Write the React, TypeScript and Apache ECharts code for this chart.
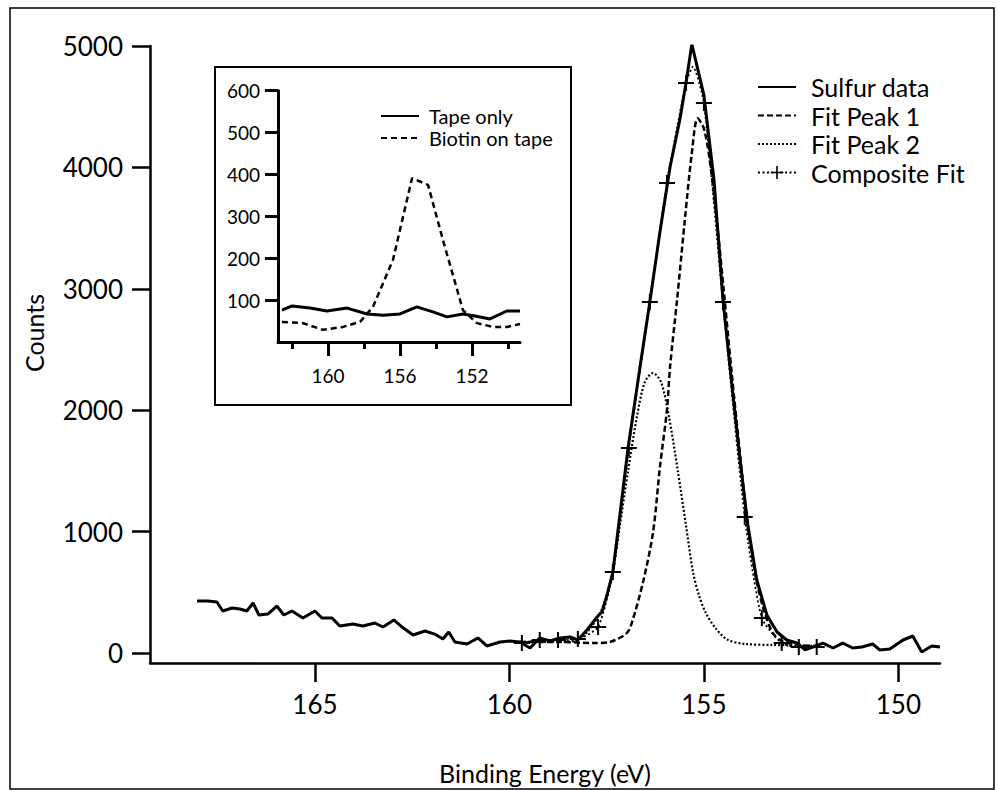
import React, { useEffect, useRef } from "react";
import * as echarts from "echarts";

// ---- Main chart data (Binding energy eV, counts) ----
const sulfurEnergy = [
  168.03, 167.75, 167.52, 167.37, 167.13, 166.93, 166.75, 166.59, 166.44, 166.21,
  165.98, 165.8, 165.59, 165.31, 165.0, 164.82, 164.56, 164.36, 164.02, 163.77,
  163.46, 163.25, 162.97, 162.76, 162.48, 162.17, 161.92, 161.71, 161.56, 161.4,
  161.09, 160.81, 160.58, 160.24, 159.99, 159.73, 159.47, 159.22, 158.96, 158.7,
  158.44, 158.24, 157.98, 157.75, 157.62, 157.49, 157.34, 157.16, 156.95, 156.65,
  156.39, 156.13, 155.87, 155.62, 155.46, 155.31, 155.0, 154.74, 154.51, 154.28,
  154.07, 153.87, 153.64, 153.38, 153.12, 152.87, 152.61, 152.4, 152.2, 151.94,
  151.68, 151.43, 151.17, 150.94, 150.66, 150.48, 150.22, 149.88, 149.63, 149.4,
  149.14, 148.93,
];
const sulfurCounts = [
  428, 428, 420, 346, 371, 362, 346, 412, 313, 321,
  387, 313, 346, 288, 346, 288, 288, 222, 239, 222,
  247, 214, 272, 214, 148, 181, 156, 115, 173, 91,
  74, 124, 58, 91, 99, 91, 41, 124, 99, 124,
  132, 107, 200, 296, 338, 478, 667, 1137, 1689, 2339,
  2891, 3468, 4003, 4390, 4695, 5016, 4596, 3896, 2908, 2207,
  1590, 1054, 601, 313, 173, 107, 82, 25, 49, 82,
  41, 82, 41, 49, 74, 25, 33, 107, 140, 8,
  58, 49,
];

const fit1Energy = [
  159.73, 158.7, 157.85, 157.42, 156.98, 156.83, 156.57, 156.31, 156.13, 155.95,
  155.87, 155.69, 155.49, 155.31, 155.16, 155.0, 154.85, 154.67, 154.49, 154.28,
  154.07, 153.87, 153.66, 153.46, 153.23, 153.0, 152.53, 152.07,
];
const fit1Counts = [
  91, 91, 82, 91, 165, 272, 577, 988, 1532, 2002,
  2356, 2908, 3567, 4119, 4404, 4320, 4061, 3567, 2990, 2290,
  1631, 1038, 618, 354, 165, 99, 66, 58,
];

const fit2Energy = [
  159.73, 158.7, 158.24, 157.93, 157.67, 157.49, 157.34, 157.16, 156.95, 156.72,
  156.52, 156.31, 156.1, 155.9, 155.67, 155.46, 155.28, 155.13, 154.95, 154.69,
  154.38, 153.95, 153.23, 152.07,
];
const fit2Counts = [
  91, 91, 107, 200, 330, 478, 667, 1050, 1500, 1950,
  2230, 2306, 2230, 1950, 1500, 1050, 667, 478, 330, 200,
  107, 75, 66, 58,
];

const compEnergy = [
  159.68, 159.22, 158.75, 158.24, 157.72, 157.34, 156.93, 156.39, 155.95, 155.46,
  155.28, 155.0, 154.51, 153.95, 153.51, 153.0, 152.56, 152.1,
];
const compCounts = [
  82, 107, 107, 115, 214, 667, 1689, 2891, 3871, 4695,
  4830, 4530, 2891, 1120, 288, 82, 49, 49,
];
const compMarker = [
  true, true, true, true, true, true, true, true, true, true,
  false, true, true, true, true, true, true, true,
];

// ---- Inset data ----
const tapeEnergy = [
  162.56, 162.0, 161.0, 160.06, 158.94, 157.83, 156.94, 156.0, 155.06, 154.17,
  153.39, 152.5, 151.83, 151.0, 150.06, 149.33,
];
const tapeCounts = [76, 86, 81, 74, 81, 67, 64, 67, 84, 72, 60, 67, 62, 55, 74, 74];

const biotinEnergy = [
  162.56, 161.39, 160.28, 159.17, 158.22, 157.5, 156.39, 155.33, 154.44, 153.61,
  152.5, 151.72, 150.83, 150.06, 149.33,
];
const biotinCounts = [48, 45, 29, 36, 48, 84, 196, 391, 375, 243, 76, 45, 36, 36, 43];

// ---- Ticks ----
const mainXTicks = [165, 160, 155, 150];
const mainYTicks = [0, 1000, 2000, 3000, 4000, 5000];
const insetXMajor = [160, 156, 152];
const insetXMinor = [162, 158, 154, 150];
const insetYTicks = [100, 200, 300, 400, 500, 600];

const FONT = "Lato, 'Open Sans', sans-serif";
const PLUS = "path://M7,0H9V7H16V9H9V16H7V9H0V7H7Z";

const zip = (xs: number[], ys: number[]) => xs.map((x, i) => [x, ys[i]]);
const plain = (v: number) => String(v);
const hideSym = { color: "transparent", borderWidth: 0, opacity: 0 };

export default function App() {
  const ref = useRef<HTMLDivElement>(null);

  useEffect(() => {
    document.body.style.margin = "0";
    if (!ref.current) return;
    const chart = echarts.init(ref.current, undefined, { renderer: "svg" });

    const axisLineStyle = { color: "#000", width: 2.5 };

    const option: any = {
      animation: false,
      backgroundColor: "#fff",
      textStyle: { fontFamily: FONT, color: "#000" },
      grid: [
        { left: 150, top: 46, width: 790, height: 617 },
        { left: 278, top: 90.7, width: 242, height: 251.3 },
      ],
      legend: [
        {
          data: [
            { name: "Sulfur data", itemStyle: hideSym },
            { name: "Fit Peak 1", itemStyle: hideSym },
            { name: "Fit Peak 2", itemStyle: hideSym },
            { name: "Composite Fit" },
          ],
          orient: "vertical",
          left: 752,
          top: 68,
          itemWidth: 38,
          itemHeight: 16,
          itemGap: 0.5,
          selectedMode: false,
          textStyle: { fontFamily: FONT, fontSize: 25, lineHeight: 28, color: "#000", padding: [0, 0, 0, 10] },
        },
        {
          data: [
            { name: "Tape only", itemStyle: hideSym },
            { name: "Biotin on tape", itemStyle: hideSym },
          ],
          orient: "vertical",
          left: 375,
          top: 101,
          itemWidth: 38,
          itemHeight: 12,
          itemGap: 2,
          selectedMode: false,
          textStyle: { fontFamily: FONT, fontSize: 20, lineHeight: 20, color: "#000", padding: [0, 0, 0, 5] },
        },
      ],
      xAxis: [
        {
          type: "value",
          gridIndex: 0,
          position: "bottom",
          min: 148.93,
          max: 169.24,
          inverse: true,
          name: "Binding Energy (eV)",
          nameLocation: "middle",
          nameGap: 97,
          nameTextStyle: { fontFamily: FONT, fontSize: 25, color: "#000" },
          axisLine: { show: true, onZero: false, lineStyle: axisLineStyle },
          axisTick: { show: true, length: 19, lineStyle: { color: "#000", width: 2.5 }, customValues: mainXTicks },
          axisLabel: { fontFamily: FONT, fontSize: 26, color: "#000", margin: 28, customValues: mainXTicks, formatter: plain },
          splitLine: { show: false },
        },
        {
          type: "value",
          gridIndex: 1,
          position: "bottom",
          min: 149.33,
          max: 162.78,
          inverse: true,
          axisLine: { show: true, onZero: false, lineStyle: { color: "#000", width: 3 } },
          axisTick: { show: true, length: 14, lineStyle: { color: "#000", width: 3 }, customValues: insetXMajor },
          axisLabel: { fontFamily: FONT, fontSize: 19, color: "#000", margin: 24, customValues: insetXMajor, formatter: plain },
          splitLine: { show: false },
        },
        {
          type: "value",
          gridIndex: 1,
          position: "bottom",
          offset: 0,
          min: 149.33,
          max: 162.78,
          inverse: true,
          axisLine: { show: false, onZero: false },
          axisTick: { show: true, length: 7, lineStyle: { color: "#000", width: 3 }, customValues: insetXMinor },
          axisLabel: { show: false },
          splitLine: { show: false },
        },
      ],
      yAxis: [
        {
          type: "value",
          gridIndex: 0,
          min: -82.4,
          max: 5000,
          axisLine: { show: true, onZero: false, lineStyle: axisLineStyle },
          axisTick: { show: true, length: 18, lineStyle: { color: "#000", width: 2.5 }, customValues: mainYTicks },
          axisLabel: { fontFamily: FONT, fontSize: 26, color: "#000", margin: 27, customValues: mainYTicks, formatter: plain },
          splitLine: { show: false },
        },
        {
          type: "value",
          gridIndex: 1,
          min: 0,
          max: 600,
          axisLine: { show: true, onZero: false, lineStyle: { color: "#000", width: 3 } },
          axisTick: { show: true, length: 13, lineStyle: { color: "#000", width: 3 }, customValues: insetYTicks },
          axisLabel: { fontFamily: FONT, fontSize: 19, color: "#000", margin: 18, customValues: insetYTicks, formatter: plain },
          splitLine: { show: false },
        },
      ],
      series: [
        {
          name: "Sulfur data",
          type: "line",
          xAxisIndex: 0,
          yAxisIndex: 0,
          data: zip(sulfurEnergy, sulfurCounts),
          symbol: "none",
          lineStyle: { color: "#000", width: 3 },
          itemStyle: { color: "#000" },
          z: 5,
        },
        {
          name: "Fit Peak 1",
          type: "line",
          xAxisIndex: 0,
          yAxisIndex: 0,
          data: zip(fit1Energy, fit1Counts),
          symbol: "none",
          smooth: 0.3,
          lineStyle: { color: "#000", width: 2.5, type: [6, 3] },
          itemStyle: { color: "#000" },
          z: 4,
        },
        {
          name: "Fit Peak 2",
          type: "line",
          xAxisIndex: 0,
          yAxisIndex: 0,
          data: zip(fit2Energy, fit2Counts),
          symbol: "none",
          smooth: 0.3,
          lineStyle: { color: "#000", width: 2.2, type: [2, 2] },
          itemStyle: { color: "#000" },
          z: 4,
        },
        {
          name: "Composite Fit",
          type: "line",
          xAxisIndex: 0,
          yAxisIndex: 0,
          data: compEnergy.map((e, i) =>
            compMarker[i] ? { value: [e, compCounts[i]] } : { value: [e, compCounts[i]], symbol: "none" }
          ),
          symbol: PLUS,
          symbolSize: 16,
          showAllSymbol: true,
          smooth: 0.2,
          lineStyle: { color: "#000", width: 1.8, type: [2, 2.5] },
          itemStyle: { color: "#000", borderWidth: 0 },
          z: 6,
        },
        {
          name: "Tape only",
          type: "line",
          xAxisIndex: 1,
          yAxisIndex: 1,
          data: zip(tapeEnergy, tapeCounts),
          symbol: "none",
          lineStyle: { color: "#000", width: 3 },
          itemStyle: { color: "#000" },
        },
        {
          name: "Biotin on tape",
          type: "line",
          xAxisIndex: 1,
          yAxisIndex: 1,
          data: zip(biotinEnergy, biotinCounts),
          symbol: "none",
          lineStyle: { color: "#000", width: 2.5, type: [6, 4] },
          itemStyle: { color: "#000" },
        },
      ],
      graphic: [
        {
          type: "rect",
          shape: { x: 10, y: 8, width: 984, height: 781 },
          style: { fill: "none", stroke: "#000", lineWidth: 1.5 },
          silent: true,
        },
        {
          type: "rect",
          shape: { x: 215, y: 67, width: 356, height: 338 },
          style: { fill: "none", stroke: "#000", lineWidth: 2 },
          silent: true,
        },
        {
          type: "text",
          x: 34,
          y: 333,
          rotation: Math.PI / 2,
          style: {
            text: "Counts",
            fontFamily: FONT,
            fontSize: 25,
            fill: "#000",
            align: "center",
            verticalAlign: "middle",
          },
          silent: true,
        },
      ],
    };

    chart.setOption(option);
    return () => chart.dispose();
  }, []);

  return <div ref={ref} style={{ width: 998, height: 790 }} />;
}
